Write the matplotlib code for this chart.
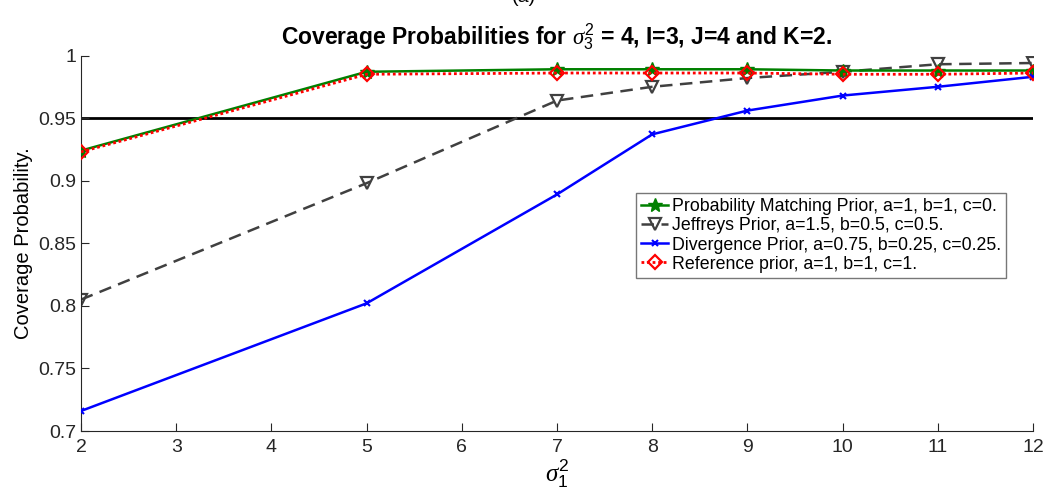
import numpy as np
import matplotlib
matplotlib.use("Agg")
import matplotlib.pyplot as plt

# sigma_1^2 values
x = [2, 5, 7, 8, 9, 10, 11, 12]

prob_matching = [0.924, 0.987, 0.989, 0.989, 0.989, 0.988, 0.988, 0.988]
jeffreys = [0.805, 0.898, 0.964, 0.975, 0.982, 0.987, 0.993, 0.994]
divergence = [0.716, 0.802, 0.889, 0.937, 0.956, 0.968, 0.975, 0.983]
reference = [0.923, 0.985, 0.986, 0.986, 0.986, 0.985, 0.985, 0.986]

nominal = 0.95

labels = [
    "Probability Matching Prior, a=1, b=1, c=0.",
    "Jeffreys Prior, a=1.5, b=0.5, c=0.5.",
    "Divergence Prior, a=0.75, b=0.25, c=0.25.",
    "Reference prior, a=1, b=1, c=1.",
]

plt.rcParams.update({
    "font.family": ["Liberation Sans", "DejaVu Sans"],
    "mathtext.fontset": "custom",
    "mathtext.it": "Liberation Serif:italic",
    "mathtext.rm": "Liberation Sans",
    "mathtext.bf": "Liberation Sans:bold",
    "axes.edgecolor": "#262626",
    "xtick.color": "#262626",
    "ytick.color": "#262626",
})

fig = plt.figure(figsize=(10.48, 5.03), dpi=100)
ax = fig.add_axes([81 / 1048, 1 - 431 / 503, 952 / 1048, 375.5 / 503])

ax.plot([x[0], x[-1]], [nominal, nominal], color="black", linewidth=2.0, zorder=1)

ax.plot(x, prob_matching, color="#008000", linestyle="-", linewidth=1.8,
        marker="*", markersize=10, label=labels[0], zorder=3)
ax.plot(x, jeffreys, color="#404040", linestyle=(0, (5, 3)), linewidth=1.8,
        marker="v", markersize=8, markerfacecolor="none", markeredgewidth=1.6,
        label=labels[1], zorder=2)
ax.plot(x, divergence, color="#0000ff", linestyle="-", linewidth=1.8,
        marker="x", markersize=5, markeredgewidth=1.5, label=labels[2], zorder=3)
ax.plot(x, reference, color="red", linestyle=(0, (1, 1)), linewidth=2.0,
        marker="D", markersize=7, markerfacecolor="none", markeredgewidth=1.6,
        label=labels[3], zorder=4)

ax.set_xlim(2, 12)
ax.set_ylim(0.7, 1.0)
ax.set_xticks(range(2, 13))
ax.set_yticks([0.7, 0.75, 0.8, 0.85, 0.9, 0.95, 1.0])
ax.set_yticklabels(["0.7", "0.75", "0.8", "0.85", "0.9", "0.95", "1"])
ax.tick_params(direction="in", length=6, labelsize=14, width=0.8)
ax.tick_params(axis="x", pad=6)

ax.spines["top"].set_visible(False)
ax.spines["right"].set_visible(False)

ax.set_xlabel(r"$\sigma_1^2$", fontsize=18, labelpad=1)
ax.set_ylabel("Coverage Probability.", fontsize=14.5, labelpad=4)
ax.set_title(r"Coverage Probabilities for $\sigma_3^2$ = 4, I=3, J=4 and K=2.",
             fontsize=16.5, fontweight="bold", pad=8)

fig.text(0.5, 1.005, "(a)", ha="center", va="center", fontsize=14)

leg = ax.legend(loc="upper left", bbox_to_anchor=(0.583, 0.634), fontsize=12.8,
                frameon=True, fancybox=False, edgecolor="#555555",
                handlelength=1.5, handletextpad=0.2, borderpad=0.3,
                labelspacing=0.12, borderaxespad=0)
leg.get_frame().set_linewidth(1.0)

fig.savefig("out.png", dpi=100)
